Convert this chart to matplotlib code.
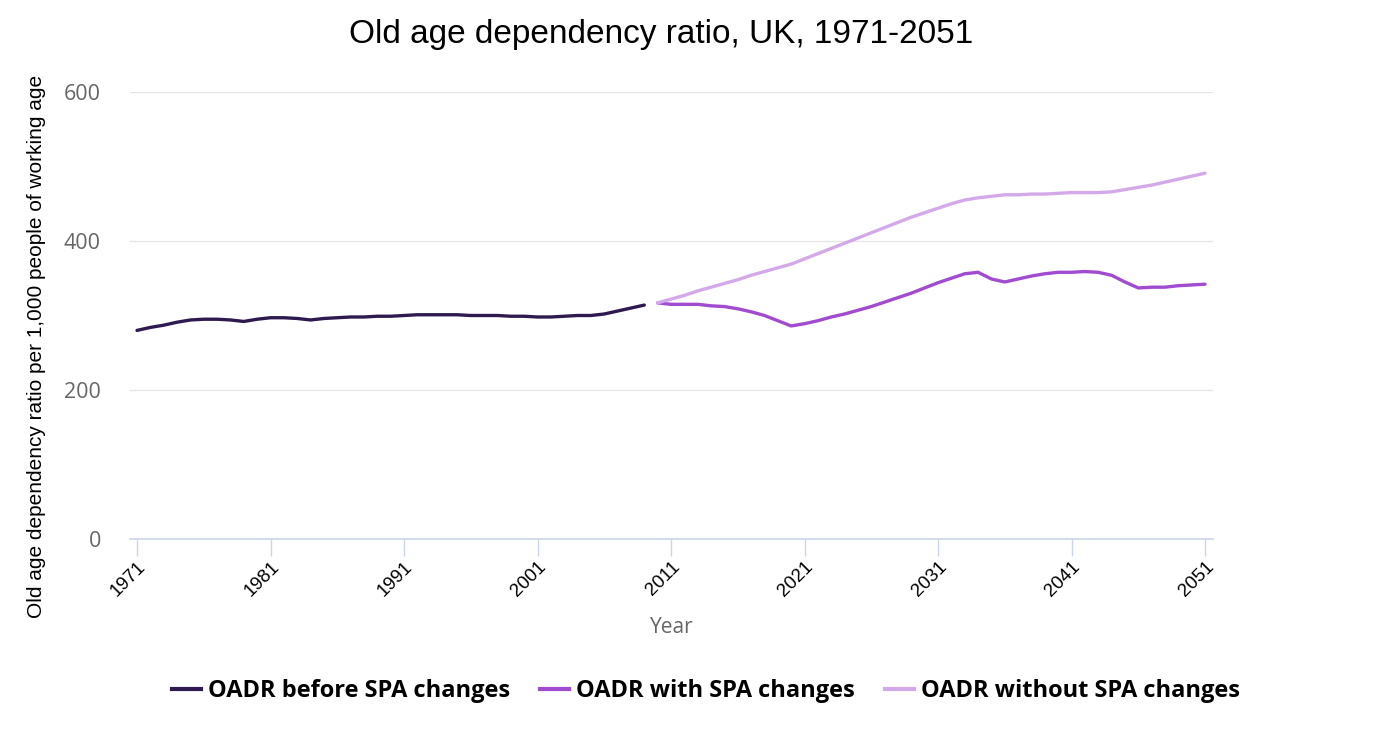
import matplotlib
matplotlib.use("Agg")
import matplotlib.pyplot as plt
from matplotlib.lines import Line2D

years_before = list(range(1971, 2010))
oadr_before = [280, 284, 287, 291, 294, 295, 295, 294, 292, 295,
               297, 297, 296, 294, 296, 297, 298, 298, 299, 299,
               300, 301, 301, 301, 301, 300, 300, 300, 299, 299,
               298, 298, 299, 300, 300, 302, 306, 310, 314]

years_proj = list(range(2010, 2052))
oadr_with = [317, 315, 315, 315, 313, 312, 309, 305, 300, 293,
             286, 289, 293, 298, 302, 307, 312, 318, 324, 330,
             337, 344, 350, 356, 358, 349, 345, 349, 353, 356,
             358, 358, 359, 358, 354, 345, 337, 338, 338, 340,
             341, 342]
oadr_without = [317, 322, 327, 333, 338, 343, 348, 354, 359, 364,
                369, 376, 383, 390, 397, 404, 411, 418, 425, 432,
                438, 444, 450, 455, 458, 460, 462, 462, 463, 463,
                464, 465, 465, 465, 466, 469, 472, 475, 479, 483,
                487, 491]

xticks = [1971, 1981, 1991, 2001, 2011, 2021, 2031, 2041, 2051]
yticks = [0, 200, 400, 600]
series_labels = ["OADR before SPA changes", "OADR with SPA changes", "OADR without SPA changes"]
colors = ["#2e1a4f", "#a04bd0", "#d4a9ea"]

fig = plt.figure(figsize=(14, 7.47), dpi=100)
ax = fig.add_axes([130/1400, 1-539/747, (1213-130)/1400, (539-92)/747])

ax.plot(years_before, oadr_before, color=colors[0], lw=2.4, solid_capstyle="round")
ax.plot(years_proj, oadr_with, color=colors[1], lw=2.4, solid_capstyle="round")
ax.plot(years_proj, oadr_without, color=colors[2], lw=2.4, solid_capstyle="round")

ax.set_xlim(1971 - 7/13.35, 2051 + 8/13.35)
ax.set_ylim(0, 600)
ax.set_yticks(yticks)
ax.set_xticks(xticks)
ax.set_xticklabels([str(x) for x in xticks], rotation=45, ha="right", rotation_mode="anchor",
                   fontsize=13.5, family="Liberation Sans", color="#000000")
ax.set_yticklabels([str(y) for y in yticks], fontsize=15.5, family="Open Sans", color="#666666")
ax.tick_params(axis="y", length=0, pad=21)
ax.tick_params(axis="x", length=12, width=1, color="#ccd6eb", pad=2)
ax.grid(axis="y", color="#e6e6e6", lw=1)
ax.set_axisbelow(True)
for s in ["top", "right", "left"]:
    ax.spines[s].set_visible(False)
ax.spines["bottom"].set_color("#ccd6eb")
ax.spines["bottom"].set_linewidth(1.2)

ax.set_xlabel("Year", fontsize=15, family="Open Sans", color="#666666", labelpad=12)
fig.text(37/1400, 1-346/747, "Old age dependency ratio per 1,000 people of working age",
         rotation=90, ha="center", va="center", fontsize=15, family="Liberation Sans", color="#000000")
fig.text(661/1400, 1-35/747, "Old age dependency ratio, UK, 1971-2051",
         ha="center", va="center", fontsize=24, family="Liberation Sans", color="#000000")

handles = [Line2D([0], [0], color=c, lw=3) for c in colors]
leg = fig.legend(handles, series_labels, loc="center", bbox_to_anchor=(706/1400, 1-691/747),
                 ncol=3, frameon=False, handlelength=1.25, handletextpad=0.3, columnspacing=1.25,
                 prop={"family": "Open Sans", "weight": "bold", "size": 17})

fig.savefig("out.png", dpi=100, facecolor="white")
